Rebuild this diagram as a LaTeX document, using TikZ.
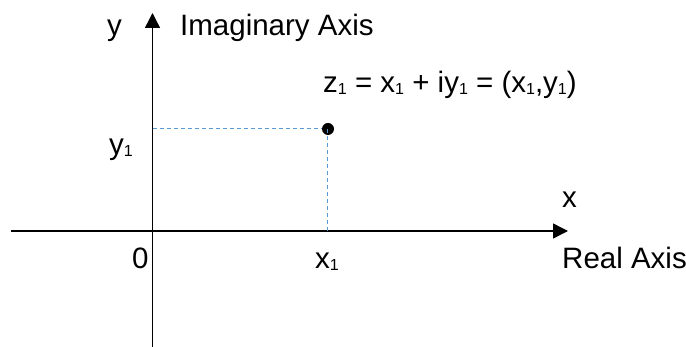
\documentclass[tikz,border=0pt]{standalone}
\usepackage{fontspec}
\setmainfont{Liberation Sans}
\usetikzlibrary{arrows.meta}
\newcommand\sbone{\raisebox{-1.5pt}{\fontsize{16}{16}\selectfont 1}}
\begin{document}
\begin{tikzpicture}[x=1pt,y=-1pt,
  axis/.style={line width=1.4pt,-{Triangle[length=15pt,width=15pt]}},
  guide/.style={draw={rgb,255:red,91;green,155;blue,213},line width=1pt,dash pattern=on 4pt off 3pt},
  lbl/.style={anchor=base west,inner sep=0pt,font=\fontsize{29.5}{29.5}\selectfont},
  pt/.style={circle,fill=black,inner sep=0pt,minimum size=12pt}]
\useasboundingbox (0,0) rectangle (686,347);
\coordinate (vb) at (152.5,347);
\coordinate (vt) at (152.5,13);
\coordinate (hl) at (11,231);
\coordinate (hr) at (568,231);
\draw[axis] (vb) -- (vt);
\draw[axis] (hl) -- (hr);
\node[pt] (p) at (328,129) {};
\coordinate (py) at (152.5,129);
\coordinate (px) at (327,231);
\coordinate (pd) at (327,129);
\draw[guide] (py) -- (p.west);
\draw[guide] (pd) -- (px);
\node[lbl] (ylab) at (107,36) {y};
\node[lbl] (imag) at (180,36) {Imaginary Axis};
\node[lbl] (z) at (323,93) {z\sbone{} = x\sbone{} + iy\sbone{} = (x\sbone,y\sbone)};
\node[lbl] (y1) at (109,155) {y\sbone};
\node[lbl] (xlab) at (562,208) {x};
\node[lbl] (zero) at (132,269) {0};
\node[lbl] (x1) at (315,269) {x\sbone};
\node[lbl] (real) at (562,269) {Real Axis};
\end{tikzpicture}
\end{document}
